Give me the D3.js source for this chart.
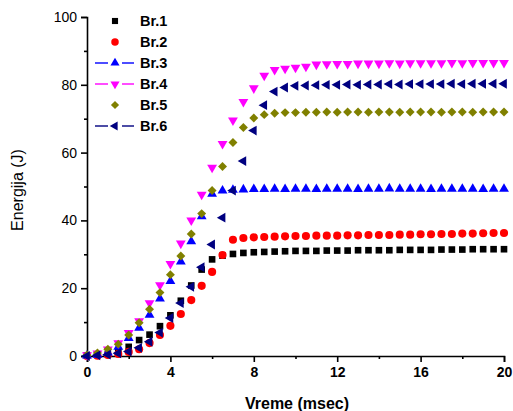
<!DOCTYPE html>
<html>
<head>
<meta charset="utf-8">
<script src="https://cdn.jsdelivr.net/npm/d3@7"></script>
<style>
  body { margin: 0; background: #fff; }
  svg { display: block; }
</style>
</head>
<body>
<div id="Chart"></div>
<script>
//////////////////////////////////////////////////////////////////////////
// global variables

var Width = 513;      // of svg
var Height = 411;     // of svg
var Left = 87;        // x pixel of time 0
var Right = 504;      // x pixel of time 20
var Top = 17;         // y pixel of energy 100
var Bottom = 356;     // y pixel of energy 0

// time axis, every half millisecond from 0 to 20
var times = d3.range(0, 20.01, 0.5);

var seriesNames = ["Br.1", "Br.2", "Br.3", "Br.4", "Br.5", "Br.6"];

var br1 = [0.2, 0.3, 0.6, 1.3, 2.7, 4.7, 6.3, 8.8, 12.0, 16.3, 20.8, 25.5, 28.5, 29.6, 30.1, 30.4, 30.6, 30.7, 30.8, 30.9, 31.0,
           31.0, 31.0, 31.1, 31.1, 31.1, 31.2, 31.2, 31.2, 31.2, 31.3, 31.3, 31.3, 31.3, 31.4, 31.4, 31.4, 31.5, 31.5, 31.5, 31.5];
var br2 = [0.0, 0.1, 0.3, 0.6, 1.2, 2.0, 3.8, 6.2, 8.9, 12.4, 16.5, 20.7, 24.8, 29.8, 34.3, 34.8, 35.0, 35.1, 35.2, 35.3, 35.4,
           35.4, 35.5, 35.5, 35.5, 35.6, 35.6, 35.7, 35.7, 35.7, 35.8, 35.8, 35.9, 35.9, 36.0, 36.0, 36.1, 36.1, 36.2, 36.3, 36.3];
var br3 = [0.1, 0.3, 1.0, 2.7, 5.3, 8.3, 12.1, 16.9, 22.1, 27.8, 33.8, 41.2, 47.8, 48.8, 49.0, 49.1,
           49.2, 49.2, 49.3, 49.2, 49.3, 49.3, 49.2, 49.3, 49.3, 49.3, 49.2, 49.3, 49.3, 49.4, 49.3, 49.3, 49.3, 49.2, 49.3, 49.3,
           49.3, 49.3, 49.2, 49.3, 49.3];
var br4 = [0.3, 0.8, 2.0, 3.8, 6.8, 10.3, 15.6, 20.9, 27.2, 33.2, 40.0, 47.6, 55.6, 62.6, 69.5, 75.0, 79.0, 82.7, 84.4, 84.8,
           85.1, 85.4, 86.0, 86.1, 86.2, 86.2, 86.3, 86.3, 86.3, 86.4, 86.3, 86.4, 86.4, 86.4, 86.4, 86.5, 86.4, 86.5, 86.5,
           86.5, 86.5];
var br5 = [0.3, 0.9, 2.0, 3.5, 6.2, 9.8, 13.8, 18.7, 24.0, 29.5, 36.0, 42.0, 48.8, 55.9, 63.0, 67.4, 70.2, 71.2, 71.6, 71.8,
           71.8, 71.9, 71.9, 72.0, 71.9, 72.0, 72.0, 71.9, 72.0, 72.0, 71.9, 72.0, 72.0, 72.0, 71.9, 72.0, 72.0, 71.9, 72.0,
           72.0, 72.0];
var br6 = [0.0, 0.2, 0.4, 0.8, 1.3, 2.4, 4.2, 6.9, 11.2, 15.6, 20.4, 26.2, 32.9, 40.8, 48.8, 57.5, 66.5, 74.0, 78.0, 79.2,
           79.7, 79.8, 79.9, 80.0, 80.0, 80.1, 80.0, 80.1, 80.1, 80.2, 80.1, 80.2, 80.2, 80.2, 80.2, 80.3, 80.2, 80.3, 80.3,
           80.3, 80.3];

var xTicks = [0, 4, 8, 12, 16, 20];
var yTicks = [0, 20, 40, 60, 80, 100];

// marker look for each series: colour, d3 symbol, rotation, legend line
var markers = [
    { color: "#000000", symbol: d3.symbolSquare,   size: 44, rotate: 0,   line: false },
    { color: "#ff0000", symbol: d3.symbolCircle,   size: 52, rotate: 0,   line: false },
    { color: "#0000ff", symbol: d3.symbolTriangle, size: 42, rotate: 0,   line: true  },
    { color: "#ff00ff", symbol: d3.symbolTriangle, size: 42, rotate: 180, line: true  },
    { color: "#808000", symbol: d3.symbolSquare,   size: 40, rotate: 45,  line: false },
    { color: "#000080", symbol: d3.symbolTriangle, size: 42, rotate: -90, line: true  }
];

//////////////////////////////////////////////////////////////////////////
// functions start here

function initialize () {

    var svg = d3.select("#Chart")
        .append("svg")
        .attr("width", Width)
        .attr("height", Height);

    svg.append("rect")
        .attr("width", Width)
        .attr("height", Height)
        .attr("fill", "#fff");

    var xScale = d3.scaleLinear().domain([0, 20]).range([Left, Right]);
    var yScale = d3.scaleLinear().domain([0, 100]).range([Bottom, Top]);

    var allSeries = [br1, br2, br3, br4, br5, br6];

    makeAxes(svg, xScale, yScale);
    drawSeries(svg, allSeries, xScale, yScale);
    makeLegend(svg);

} // end initialize

// axes with major and minor ticks, as in Origin
function makeAxes (svg, xScale, yScale) {

    var xMinor = d3.range(2, 20, 4);
    var yMinor = d3.range(10, 100, 20);

    var xAxis = svg.append("g")
        .attr("transform", "translate(0," + Bottom + ")")
        .call(d3.axisBottom(xScale).tickValues(xTicks).tickSizeOuter(0).tickSize(6).tickPadding(5));
    svg.append("g")
        .attr("transform", "translate(0," + Bottom + ")")
        .call(d3.axisBottom(xScale).tickValues(xMinor).tickSize(3).tickFormat(""))
        .select(".domain").remove();

    var yAxis = svg.append("g")
        .attr("transform", "translate(" + Left + ",0)")
        .call(d3.axisLeft(yScale).tickValues(yTicks).tickSizeOuter(0).tickSize(6).tickPadding(4));
    svg.append("g")
        .attr("transform", "translate(" + Left + ",0)")
        .call(d3.axisLeft(yScale).tickValues(yMinor).tickSize(3).tickFormat(""))
        .select(".domain").remove();

    svg.selectAll(".domain").attr("stroke", "#000").attr("stroke-width", 1.6);
    svg.selectAll(".tick line").attr("stroke", "#000").attr("stroke-width", 1.6);

    xAxis.selectAll(".tick text")
        .attr("font-family", "Liberation Sans, Arial, sans-serif")
        .attr("font-size", "14px")
        .attr("font-weight", "bold")
        .attr("fill", "#000");

    yAxis.selectAll(".tick text")
        .attr("font-family", "Liberation Sans, Arial, sans-serif")
        .attr("font-size", "14px")
        .attr("fill", "#000");

    // axis titles
    svg.append("text")
        .attr("x", 297)
        .attr("y", 409)
        .attr("text-anchor", "middle")
        .attr("font-family", "Liberation Sans, Arial, sans-serif")
        .attr("font-size", "16px")
        .attr("font-weight", "bold")
        .text("Vreme (msec)");

    svg.append("text")
        .attr("transform", "translate(23,190) rotate(-90)")
        .attr("text-anchor", "middle")
        .attr("font-family", "Liberation Sans, Arial, sans-serif")
        .attr("font-size", "16px")
        .text("Energija (J)");

} // end makeAxes

// scatter markers, later series on top
function drawSeries (svg, allSeries, xScale, yScale) {

    allSeries.forEach(function (values, s) {
        var m = markers[s];
        svg.append("g")
            .selectAll("path")
            .data(values)
            .enter()
            .append("path")
            .attr("d", d3.symbol().type(m.symbol).size(m.size))
            .attr("transform", function (d, i) {
                return "translate(" + xScale(times[i]) + "," + yScale(d) + ") rotate(" + m.rotate + ")";
            })
            .attr("fill", m.color);
    });

} // end drawSeries

function makeLegend (svg) {

    var rowY = d3.scaleLinear().domain([0, 5]).range([21, 126]);
    var legend = svg.append("g");

    seriesNames.forEach(function (name, s) {
        var m = markers[s];
        var y = rowY(s);
        if (m.line) {
            // short line pieces on both sides of the marker
            [[95, 108], [122, 134]].forEach(function (seg) {
                legend.append("line")
                    .attr("x1", seg[0]).attr("x2", seg[1])
                    .attr("y1", y).attr("y2", y)
                    .attr("stroke", m.color)
                    .attr("stroke-width", 1.4);
            });
        }
        legend.append("path")
            .attr("d", d3.symbol().type(m.symbol).size(m.size * 0.85))
            .attr("transform", "translate(115," + y + ") rotate(" + m.rotate + ")")
            .attr("fill", m.color);
        legend.append("text")
            .attr("x", 140)
            .attr("y", y + 5)
            .attr("font-family", "Liberation Sans, Arial, sans-serif")
            .attr("font-size", "14.5px")
            .attr("font-weight", "bold")
            .text(name);
    });

} // end makeLegend

//////////////////////////////////////////////////////////////////////////
initialize();
</script>
</body>
</html>
